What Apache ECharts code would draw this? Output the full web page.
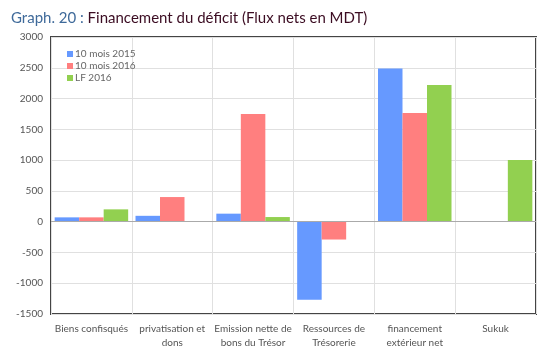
<!DOCTYPE html>
<html><head><meta charset="utf-8">
<script src="https://cdn.jsdelivr.net/npm/echarts@6/dist/echarts.min.js"></script>
<style>html,body{margin:0;padding:0;background:#fff}#c{width:559px;height:358px}</style>
</head><body><div id="c"></div>
<script>
const categories = ["Biens confisqués", "privatisation et\ndons", "Emission nette de\nbons du Trésor", "Ressources de\nTrésorerie", "financement\nextérieur net", "Sukuk"];
const s2015 = [70, 95, 130, -1270, 2490, 0];
const s2016 = [70, 400, 1750, -290, 1765, 0];
const lf2016 = [200, 0, 75, 0, 2220, 1000];
const seriesNames = ["10 mois 2015", "10 mois 2016", "LF 2016"];
const colors = ["#6699ff", "#ff7f7f", "#92d050"];
const font = "Lato, 'Open Sans', sans-serif";
const chart = echarts.init(document.getElementById('c'));
const mk = (name, data, color, extra) => Object.assign({
  name, type: 'bar', data, barWidth: 24.5, barGap: '0%',
  itemStyle: { color }
}, extra || {});
chart.setOption({
  animation: false,
  title: {
    text: '{a|Graph. 20 : }{b|Financement du déficit (Flux nets en MDT)}',
    left: 6, top: 6,
    textStyle: { fontWeight: 'normal', rich: {
      a: { color: '#3f6a9a', fontSize: 15, fontFamily: font, fontWeight: 'normal' },
      b: { color: '#3b0c22', fontSize: 15, fontFamily: font, fontWeight: 'normal' }
    } }
  },
  legend: {
    orient: 'vertical', left: 62, top: 44, itemWidth: 6, itemHeight: 6, itemGap: 2,
    icon: 'rect', data: seriesNames,
    textStyle: { fontSize: 10, color: '#666', fontFamily: font, padding: [0, 0, 0, -3] }
  },
  grid: { left: 51, right: 23, top: 37, bottom: 44, show: true, borderColor: '#444', borderWidth: 2, backgroundColor: 'transparent' },
  xAxis: {
    type: 'category', data: categories,
    axisLine: { show: false }, axisTick: { show: false },
    splitLine: { show: true, lineStyle: { color: '#e0e0e0' } },
    axisLabel: { color: '#555', fontSize: 10, fontFamily: font, lineHeight: 14, margin: 8, interval: 0 }
  },
  yAxis: {
    type: 'value', min: -1500, max: 3000, interval: 500,
    axisLine: { show: false }, axisTick: { show: false },
    splitLine: { lineStyle: { color: '#e0e0e0' } },
    axisLabel: { color: '#555', fontSize: 10, fontFamily: font, margin: 8, formatter: v => String(v) }
  },
  series: [
    mk(seriesNames[0], s2015, colors[0], {
      markLine: { silent: true, symbol: 'none', label: { show: false },
        lineStyle: { color: '#aaa', type: 'solid', width: 1 }, data: [{ yAxis: 0 }] }
    }),
    mk(seriesNames[1], s2016, colors[1]),
    mk(seriesNames[2], lf2016, colors[2])
  ]
});
</script></body></html>
